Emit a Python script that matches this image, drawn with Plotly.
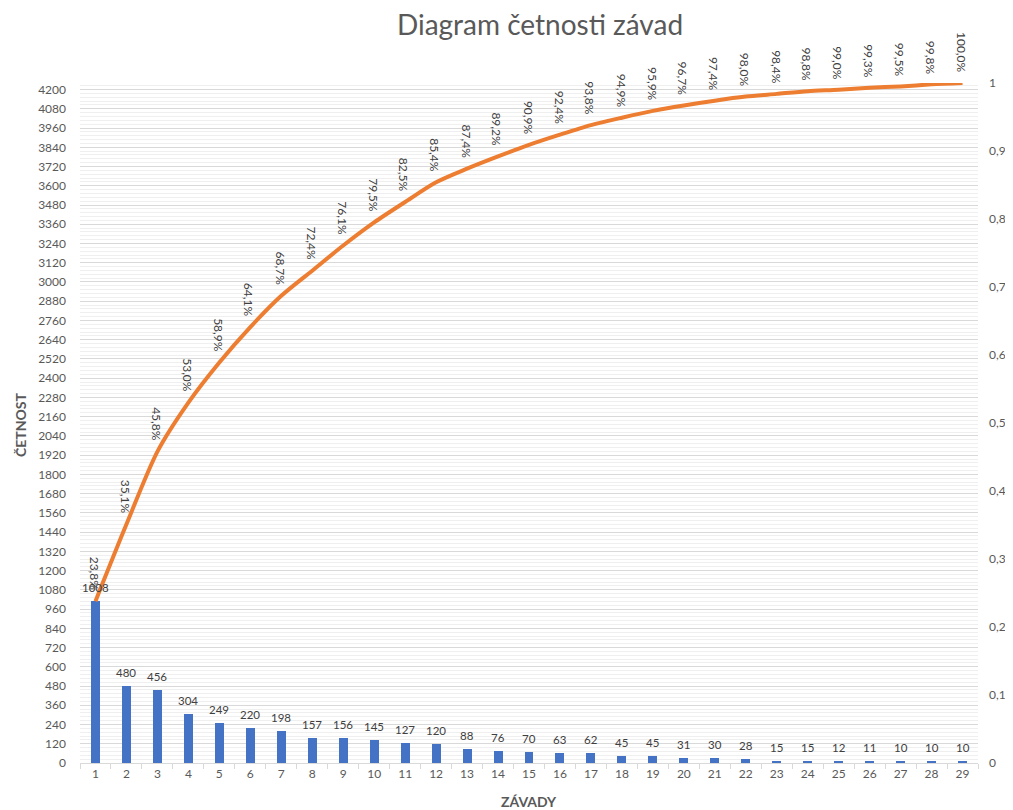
import plotly.graph_objects as go

categories = [str(i) for i in range(1, 30)]
counts = [1008, 480, 456, 304, 249, 220, 198, 157, 156, 145, 127, 120, 88, 76, 70,
          63, 62, 45, 45, 31, 30, 28, 15, 15, 12, 11, 10, 10, 10]
cum_pct = [0.238, 0.351, 0.458, 0.530, 0.589, 0.641, 0.687, 0.724, 0.761, 0.795,
           0.825, 0.854, 0.874, 0.892, 0.909, 0.924, 0.938, 0.949, 0.959, 0.967,
           0.974, 0.980, 0.984, 0.988, 0.990, 0.993, 0.995, 0.998, 1.000]
pct_labels = [f"{v*100:.1f}%".replace(".", ",") for v in cum_pct]
left_ticks = list(range(0, 4201, 120))
right_ticks = [i / 10 for i in range(0, 11)]
right_ticktext = ["0", "0,1", "0,2", "0,3", "0,4", "0,5", "0,6", "0,7", "0,8", "0,9", "1"]

FONT = "Lato"
GRAY = "#595959"
DARK = "#404040"

# page body has an 8px default margin, so the figure is sized 8px smaller
W, H = 1005, 802
ML, MR, MT, MB = 72, 35, 75, 47
PW, PH = W - ML - MR, H - MT - MB

fig = go.Figure()
fig.add_trace(go.Bar(
    x=categories, y=counts, width=0.29,
    marker=dict(color="#4472C4", line=dict(width=0)),
    name="Četnost",
))
fig.add_trace(go.Scatter(
    x=categories, y=cum_pct, yaxis="y2", mode="lines",
    line=dict(color="#ED7D31", width=4, shape="spline", smoothing=0.8),
    name="Kumulativně",
))

for i, c in enumerate(counts):
    fig.add_annotation(
        x=i, y=c, xref="x", yref="y", text=str(c), showarrow=False,
        yanchor="bottom", xanchor="center", yshift=5,
        font=dict(family=FONT, size=11.5, color=DARK),
    )

for i, (v, lab) in enumerate(zip(cum_pct, pct_labels)):
    fig.add_annotation(
        x=i, y=v, xref="x", yref="y2", text=lab, showarrow=False,
        textangle=90, yanchor="bottom", xanchor="center", yshift=8, xshift=-1,
        font=dict(family=FONT, size=12, color=DARK),
    )

fig.add_annotation(
    text="<b>ZÁVADY</b>", xref="paper", yref="paper",
    x=(521 - ML) / PW, y=-(793 - (H - MB)) / PH, xanchor="center", yanchor="middle",
    showarrow=False, font=dict(family=FONT, size=14, color=GRAY),
)
fig.add_annotation(
    text="<b>ČETNOST</b>", xref="paper", yref="paper", textangle=-90,
    x=(12 - ML) / PW, y=1 - (417 - MT) / PH, xanchor="center", yanchor="middle",
    showarrow=False, font=dict(family=FONT, size=14, color=GRAY),
)

fig.update_layout(
    width=W, height=H,
    margin=dict(l=ML, r=MR, t=MT, b=MB, autoexpand=False),
    paper_bgcolor="white", plot_bgcolor="white",
    showlegend=False, bargap=0,
    title=dict(text="Diagram četnosti závad", x=532 / W, xanchor="center",
               y=1 - 17 / H, yanchor="middle",
               font=dict(family=FONT, size=28, color=GRAY)),
    font=dict(family=FONT, color=GRAY),
    xaxis=dict(
        type="category", showgrid=False, range=[-0.5, 28.5], automargin=False,
        showline=True, linecolor="#d9d9d9", linewidth=1,
        ticks="outside", tickson="boundaries", ticklen=5, tickcolor="#d9d9d9",
        tickfont=dict(family=FONT, size=12, color=GRAY),
    ),
    yaxis=dict(
        range=[0, 4241], tickvals=left_ticks, ticks="", automargin=False,
        showgrid=True, gridcolor="#d9d9d9", gridwidth=1,
        minor=dict(dtick=24, tick0=0, showgrid=True, gridcolor="#efefef", gridwidth=1),
        zeroline=False, showline=False,
        tickfont=dict(family=FONT, size=12, color=GRAY),
        ticklabelstandoff=13,
    ),
    yaxis2=dict(
        range=[0, 1], overlaying="y", side="right", automargin=False,
        tickvals=right_ticks, ticktext=right_ticktext, ticks="",
        showgrid=False, zeroline=False, showline=False,
        tickfont=dict(family=FONT, size=12, color=GRAY),
        ticklabelstandoff=10,
    ),
)

fig.write_html("out.html")
